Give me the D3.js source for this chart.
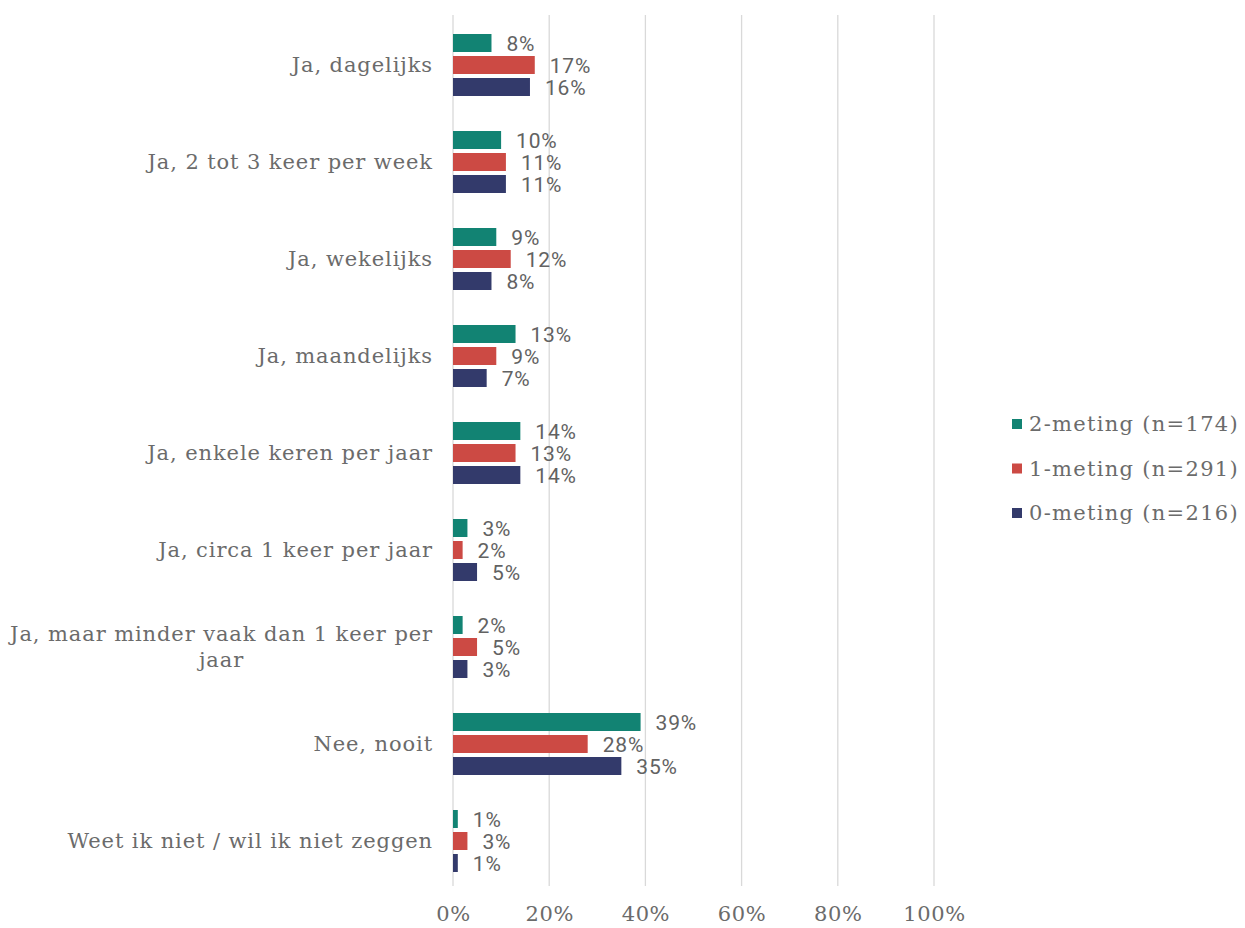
<!DOCTYPE html>
<html>
<head>
<meta charset="utf-8">
<script src="https://cdn.jsdelivr.net/npm/d3@7"></script>
<style>
  html, body { margin: 0; padding: 0; background: #fff; }
  svg { display: block; }
</style>
</head>
<body>
<svg id="chart" width="1245" height="928"></svg>
<script>
const categories = [
  "Ja, dagelijks",
  "Ja, 2 tot 3 keer per week",
  "Ja, wekelijks",
  "Ja, maandelijks",
  "Ja, enkele keren per jaar",
  "Ja, circa 1 keer per jaar",
  "Ja, maar minder vaak dan 1 keer per jaar",
  "Nee, nooit",
  "Weet ik niet / wil ik niet zeggen"
];
const seriesNames = ["2-meting (n=174)", "1-meting (n=291)", "0-meting (n=216)"];
const meting2 = [8, 10, 9, 13, 14, 3, 2, 39, 1];
const meting1 = [17, 11, 12, 9, 13, 2, 5, 28, 3];
const meting0 = [16, 11, 8, 7, 14, 5, 3, 35, 1];
const xTicks = [0, 20, 40, 60, 80, 100];
const colors = ["#128373", "#cc4a44", "#333a6b"];

const seriesValues = [meting2, meting1, meting0];

const svg = d3.select("#chart");
const plotLeft = 453, plotRight = 934, plotTop = 16.5, plotBottom = 889.5;
const serif = "'DejaVu Serif', serif";
const textGray = "#6b6b6b";

const x = d3.scaleLinear().domain([0, 100]).range([plotLeft, plotRight]);
const y = d3.scaleBand().domain(categories).range([plotTop, plotBottom]).paddingInner(0).paddingOuter(0);
const inner = d3.scaleBand().domain(d3.range(seriesNames.length))
  .range([-31, 31]).paddingInner(4 / 22).paddingOuter(0);

// gridlines
svg.append("g").selectAll("line").data(xTicks).join("line")
  .attr("x1", d => x(d)).attr("x2", d => x(d))
  .attr("y1", 15).attr("y2", 886)
  .attr("stroke", "#d9d9d9").attr("stroke-width", 1.3);

// axis labels
const axis = d3.axisBottom(x).tickValues(xTicks).tickFormat(d => d + "%").tickSize(0).tickPadding(0);
const ag = svg.append("g").attr("transform", "translate(0,921)").call(axis);
ag.select(".domain").remove();
ag.selectAll("text")
  .attr("dy", 0).attr("y", 0)
  .style("font-family", serif)
  .style("font-size", "21px")
  .style("letter-spacing", "0.6px")
  .attr("fill", textGray);

// bars
const groups = svg.append("g").selectAll("g").data(categories).join("g")
  .attr("transform", d => `translate(0,${y(d) + y.bandwidth() / 2})`);

groups.each(function(cat, ci) {
  const g = d3.select(this);
  seriesValues.forEach((vals, si) => {
    const v = vals[ci];
    g.append("rect")
      .attr("x", x(0))
      .attr("y", inner(si))
      .attr("width", x(v) - x(0))
      .attr("height", inner.bandwidth())
      .attr("fill", colors[si]);
    g.append("text")
      .attr("x", x(v) + 15)
      .attr("y", inner(si) + inner.bandwidth() / 2)
      .attr("dy", "0.36em")
      .style("font-family", "Roboto, sans-serif")
      .style("font-size", "21px")
      .style("letter-spacing", "0.8px")
      .attr("fill", "#626262")
      .text(v + "%");
  });
});

// category labels with wrapping
const labelX = 433;
const maxW = 430;
const labels = svg.append("g");
categories.forEach(cat => {
  const t = labels.append("text")
    .attr("text-anchor", "middle")
    .style("font-family", serif)
    .style("font-size", "21px")
    .style("letter-spacing", "0.9px")
    .attr("fill", textGray);
  const words = cat.split(" ");
  const lines = [];
  let cur = [];
  const probe = t.append("tspan");
  words.forEach(w => {
    const test = cur.concat([w]).join(" ");
    probe.text(test);
    if (probe.node().getComputedTextLength() > maxW && cur.length) {
      lines.push(cur.join(" "));
      cur = [w];
    } else {
      cur.push(w);
    }
  });
  lines.push(cur.join(" "));
  probe.remove();
  const cy = y(cat) + y.bandwidth() / 2;
  const lh = 26;
  const widths = [];
  lines.forEach(ln => {
    const ts = t.append("tspan").text(ln);
    widths.push(ts.node().getComputedTextLength());
  });
  const maxLine = d3.max(widths);
  const cx = labelX - maxLine / 2;
  t.selectAll("tspan")
    .attr("x", cx)
    .attr("y", (d, i) => cy + (i - (lines.length - 1) / 2) * lh)
    .attr("dy", "0.35em");
});

// legend
const legend = svg.append("g").attr("transform", "translate(1012,424)");
seriesNames.forEach((name, i) => {
  const lg = legend.append("g").attr("transform", `translate(0,${i * 44.5})`);
  lg.append("rect").attr("x", 0).attr("y", -5).attr("width", 10).attr("height", 10).attr("fill", colors[i]);
  lg.append("text").attr("x", 17).attr("y", 0).attr("dy", "0.35em")
    .style("font-family", serif)
    .style("font-size", "21px")
    .style("letter-spacing", "1.3px")
    .attr("fill", textGray)
    .text(name);
});
</script>
</body>
</html>
